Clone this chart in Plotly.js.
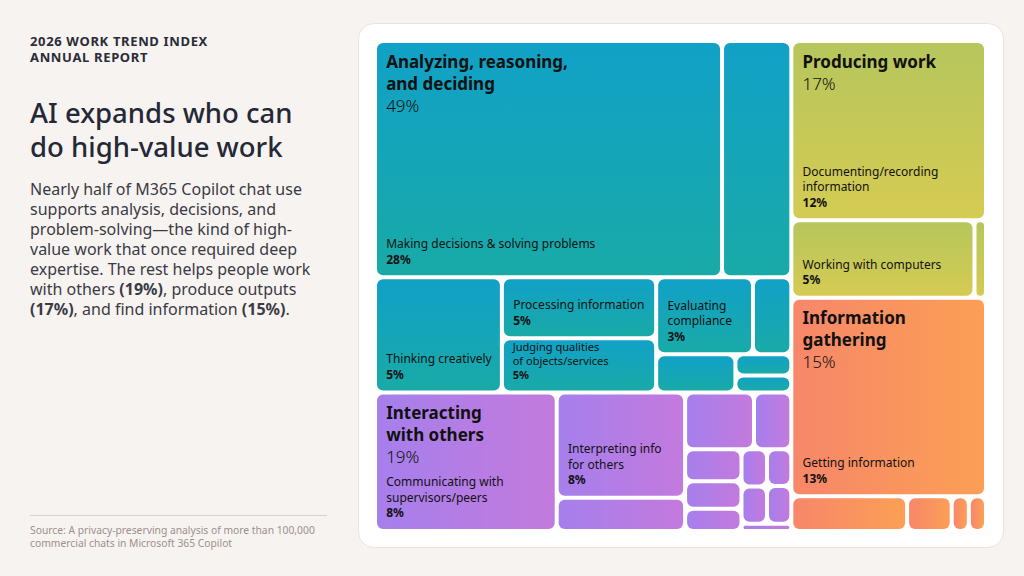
<!DOCTYPE html>
<html>
<head>
<meta charset="utf-8">
<script src="https://cdn.plot.ly/plotly-3.0.1.min.js"></script>
<style>
html,body{margin:0;padding:0;width:1024px;height:576px;background:#f7f3f0;overflow:hidden;font-family:"Noto Sans",Roboto,sans-serif;}
.ln{display:block;white-space:nowrap;}
#kicker{position:absolute;left:30px;top:33px;font-size:13px;font-weight:700;letter-spacing:0.65px;color:#2a2c38;}
#kicker .ln{height:16px;line-height:16px;}
#title{position:absolute;left:30px;top:96px;font-size:27.5px;font-weight:500;color:#252836;}
#title .ln{height:34px;line-height:34px;}
#body{position:absolute;left:30px;top:179px;font-size:16px;color:#3a3b45;}
#body .ln{height:20px;line-height:20px;}
#rule{position:absolute;left:30px;top:515px;width:297px;height:1px;background:#d9d0cc;}
#source{position:absolute;left:30px;top:524px;font-size:10.3px;color:#9c908d;}
#source .ln{height:12.8px;line-height:12.8px;}
#panel{position:absolute;left:358px;top:23px;width:646px;height:525px;background:#fff;border:1px solid #ece3de;border-radius:16px;box-sizing:border-box;}
#chart{position:absolute;left:377px;top:43px;width:607px;height:486px;}
</style>
</head>
<body>
<div id="kicker"><span class="ln">2026 WORK TREND INDEX</span><span class="ln">ANNUAL REPORT</span></div>
<div id="title"><span class="ln">AI expands who can</span><span class="ln">do high-value work</span></div>
<div id="body"><span class="ln">Nearly half of M365 Copilot chat use</span><span class="ln">supports analysis, decisions, and</span><span class="ln">problem-solving—the kind of high-</span><span class="ln">value work that once required deep</span><span class="ln">expertise. The rest helps people work</span><span class="ln">with others <b>(19%)</b>, produce outputs</span><span class="ln"><b>(17%)</b>, and find information <b>(15%)</b>.</span></div>
<div id="rule"></div>
<div id="source"><span class="ln">Source: A privacy-preserving analysis of more than 100,000</span><span class="ln">commercial chats in Microsoft 365 Copilot</span></div>
<div id="panel"></div>
<div id="chart"></div>
<script>
// ---- hierarchy (containers have value 0; leaves carry estimated shares read from tile areas)
const nodeIds = ['root','colL','colR','g_ana','g_int','g_pro','g_inf',
  'ana_w','ana_top','ana_bot','decide','ana_u1','creative','ana_pj','ana_ev','processing','judging',
  'ana_ev_top','ana_ev_bot','compliance','ana_u2','ana_u3','ana_stack','ana_u4','ana_u5',
  'communicating','int_c2','int_c3','interpreting','int_u1','int_r1','int_r2','int_u2','int_u3',
  'int_sa','int_sb','int_u4','int_u5','int_u6','int_grid','int_u7','int_gc1','int_gc2',
  'int_u8','int_u9','int_u10','int_u11',
  'pro_w','documenting','pro_r2','computers','pro_u1',
  'inf_w','getting','inf_r2','inf_u1','inf_u2','inf_u3','inf_u4'];
const nodeParents = ['','root','root','colL','colL','colR','colR',
  'g_ana','ana_w','ana_w','ana_top','ana_top','ana_bot','ana_bot','ana_bot','ana_pj','ana_pj',
  'ana_ev','ana_ev','ana_ev_top','ana_ev_top','ana_ev_bot','ana_ev_bot','ana_stack','ana_stack',
  'g_int','g_int','g_int','int_c2','int_c2','int_c3','int_c3','int_r1','int_r1',
  'int_r2','int_r2','int_sa','int_sa','int_sa','int_sb','int_sb','int_grid','int_grid',
  'int_gc1','int_gc1','int_gc2','int_gc2',
  'g_pro','pro_w','pro_w','pro_r2','pro_r2',
  'g_inf','inf_w','inf_w','inf_r2','inf_r2','inf_r2','inf_r2'];
const nodeValues = [0,0,0,0,0,0,0,
  0,0,0,27.55,5.50,4.91,0,0,3.15,2.82,
  0,0,2.50,0.99,1.02,0,0.40,0.32,
  8.45,0,0,4.54,1.43,0,0,1.31,0.71,
  0,0,0.61,0.52,0.42,0,0.12,0,0,
  0.32,0.32,0.30,0.31,
  0,11.72,0,4.77,0.30,
  0,12.98,0,1.35,0.52,0.20,0.20];

// ---- labelled categories
const leafIds = ['decide','creative','processing','judging','compliance','communicating','interpreting','documenting','computers','getting'];
const leafNames = ['Making decisions & solving problems','Thinking creatively','Processing information',
  'Judging qualities<br>of objects/services','Evaluating<br>compliance','Communicating with<br>supervisors/peers',
  'Interpreting info<br>for others','Documenting/recording<br>information','Working with computers','Getting information'];
const leafPct = ['28%','5%','5%','5%','3%','8%','8%','12%','5%','13%'];

const groupIds = ['g_ana','g_int','g_pro','g_inf'];
const groupNames = ['Analyzing, reasoning,<br>and deciding','Interacting<br>with others','Producing work','Information<br>gathering'];
const groupPct = ['49%','19%','17%','15%'];
const groupColors = ['#15a5b8','#b47be6','#c5c858','#f9935f'];
// gradient stops per group: [from, to, direction]
const groupGradients = [['#11a1c7','#19aaa7','v'],['#a67fec','#c37add','h'],['#b6c65c','#d5cb53','v'],['#f7876a','#fc9f55','h']];

// ---- build styling arrays
const parentOf = {};
nodeIds.forEach((id,i)=>{parentOf[id]=nodeParents[i];});
const isParent = new Set(nodeParents);
function groupIndex(id){
  let cur=id;
  while(cur){ const g=groupIds.indexOf(cur); if(g>=0) return g; cur=parentOf[cur]; }
  return -1;
}
const clear='rgba(0,0,0,0)';
const tileColors = nodeIds.map(id => isParent.has(id) ? clear : groupColors[groupIndex(id)]);
const tileText = nodeIds.map(id => {
  const k = leafIds.indexOf(id);
  if(k<0) return '';
  return leafNames[k].split('<br>').map(s=>'\u00a0\u00a0'+s).join('<br>') + '<br>\u00a0\u00a0<b>'+leafPct[k]+'</b>';
});
const titleText = nodeIds.map(id => {
  const k = groupIds.indexOf(id);
  if(k<0) return '';
  return groupNames[k].split('<br>').map(s=>'\u00a0\u200a<b>'+s+'</b>').join('<br>') +
    '<br>\u00a0\u200a<span style="font-weight:300">'+groupPct[k]+'</span>';
});

const common = {
  type:'treemap', ids:nodeIds, labels:nodeIds, parents:nodeParents, values:nodeValues,
  branchvalues:'remainder', sort:false,
  tiling:{packing:'slice-dice', pad:4},
  pathbar:{visible:false},
  textinfo:'text', hoverinfo:'skip',
  domain:{x:[0,1],y:[0,1]}
};
const tiles = Object.assign({}, common, {
  text: tileText,
  textposition:'bottom left',
  textfont:{family:'Noto Sans', size:12, color:'#111111'},
  marker:{colors:tileColors, line:{width:0}, pad:{t:0,l:0,r:0,b:0}, depthfade:false},
  leaf:{opacity:1}
});
const titles = Object.assign({}, common, {
  text: titleText,
  maxdepth:3,
  textposition:'top left',
  textfont:{family:'Noto Sans', size:17, color:'#111111'},
  marker:{colors:nodeIds.map(()=>clear), line:{width:0}, pad:{t:0,l:0,r:0,b:0}, depthfade:false},
  leaf:{opacity:1}
});

const CORNER = 6;
function roundedPath(d, r0){
  if(!d || /[aAcCqQ]/.test(d)) return null;
  const n = (d.match(/-?\d*\.?\d+(?:e[-+]?\d+)?/gi)||[]).map(Number);
  if(n.length < 8) return null;
  const xs=[], ys=[];
  for(let i=0;i+1<n.length;i+=2){xs.push(n[i]);ys.push(n[i+1]);}
  const x0=Math.min(...xs), x1=Math.max(...xs), y0=Math.min(...ys), y1=Math.max(...ys);
  const r=Math.max(0, Math.min(r0,(x1-x0)/2,(y1-y0)/2));
  const A=(x,y)=>'A'+r+','+r+' 0 0 1 '+x+','+y;
  return 'M'+(x0+r)+','+y0+'H'+(x1-r)+A(x1,y0+r)+'V'+(y1-r)+A(x1-r,y1)+'H'+(x0+r)+A(x0,y1-r)+'V'+(y0+r)+A(x0+r,y0)+'Z';
}

Plotly.newPlot('chart', [tiles, titles], {
  width:607, height:486, margin:{l:0,r:0,t:0,b:0},
  paper_bgcolor:'rgba(0,0,0,0)', plot_bgcolor:'rgba(0,0,0,0)',
  showlegend:false
}, {staticPlot:true, displayModeBar:false}).then(gd=>{
  // per-tile gradient fills and rounded corners (style only)
  const svg = gd.querySelector('svg.main-svg');
  const NS='http://www.w3.org/2000/svg';
  const defs=document.createElementNS(NS,'defs');
  groupGradients.forEach((g,i)=>{
    const lg=document.createElementNS(NS,'linearGradient');
    lg.setAttribute('id','tmgrad'+i);
    lg.setAttribute('x1','0');lg.setAttribute('y1','0');
    lg.setAttribute('x2',g[2]==='h'?'1':'0');lg.setAttribute('y2',g[2]==='h'?'0':'1');
    [[0,g[0]],[1,g[1]]].forEach(s=>{const st=document.createElementNS(NS,'stop');st.setAttribute('offset',s[0]);st.setAttribute('stop-color',s[1]);lg.appendChild(st);});
    defs.appendChild(lg);
  });
  svg.insertBefore(defs, svg.firstChild);
  const layers = gd.querySelectorAll('g.trace.treemap');
  if(layers[0]) layers[0].querySelectorAll('g.slice').forEach(g=>{
    const pt=g.__data__; if(!pt||!pt.data||!pt.data.data) return;
    const id=pt.data.data.id; if(!id || isParent.has(id)) return;
    const gi=groupIndex(id); if(gi<0) return;
    const p=g.querySelector('path.surface');
    if(p){
      p.style.fill='url(#tmgrad'+gi+')';
      const rd=roundedPath(p.getAttribute('d'), CORNER); if(rd) p.setAttribute('d', rd);
    }
    const t=g.querySelector('text.slicetext'); if(t) t.setAttribute('transform','translate(0,-4.5)'+(t.getAttribute('transform')||''));
  });
  if(layers[1]) layers[1].querySelectorAll('g.slice').forEach(g=>{
    const pt=g.__data__; if(!pt||!pt.data||!pt.data.data) return;
    if(groupIds.indexOf(pt.data.data.id)<0) return;
    const t=g.querySelector('text.slicetext'); if(t) t.setAttribute('transform','translate(0,3.5)'+(t.getAttribute('transform')||''));
  });
});
</script>
</body>
</html>
